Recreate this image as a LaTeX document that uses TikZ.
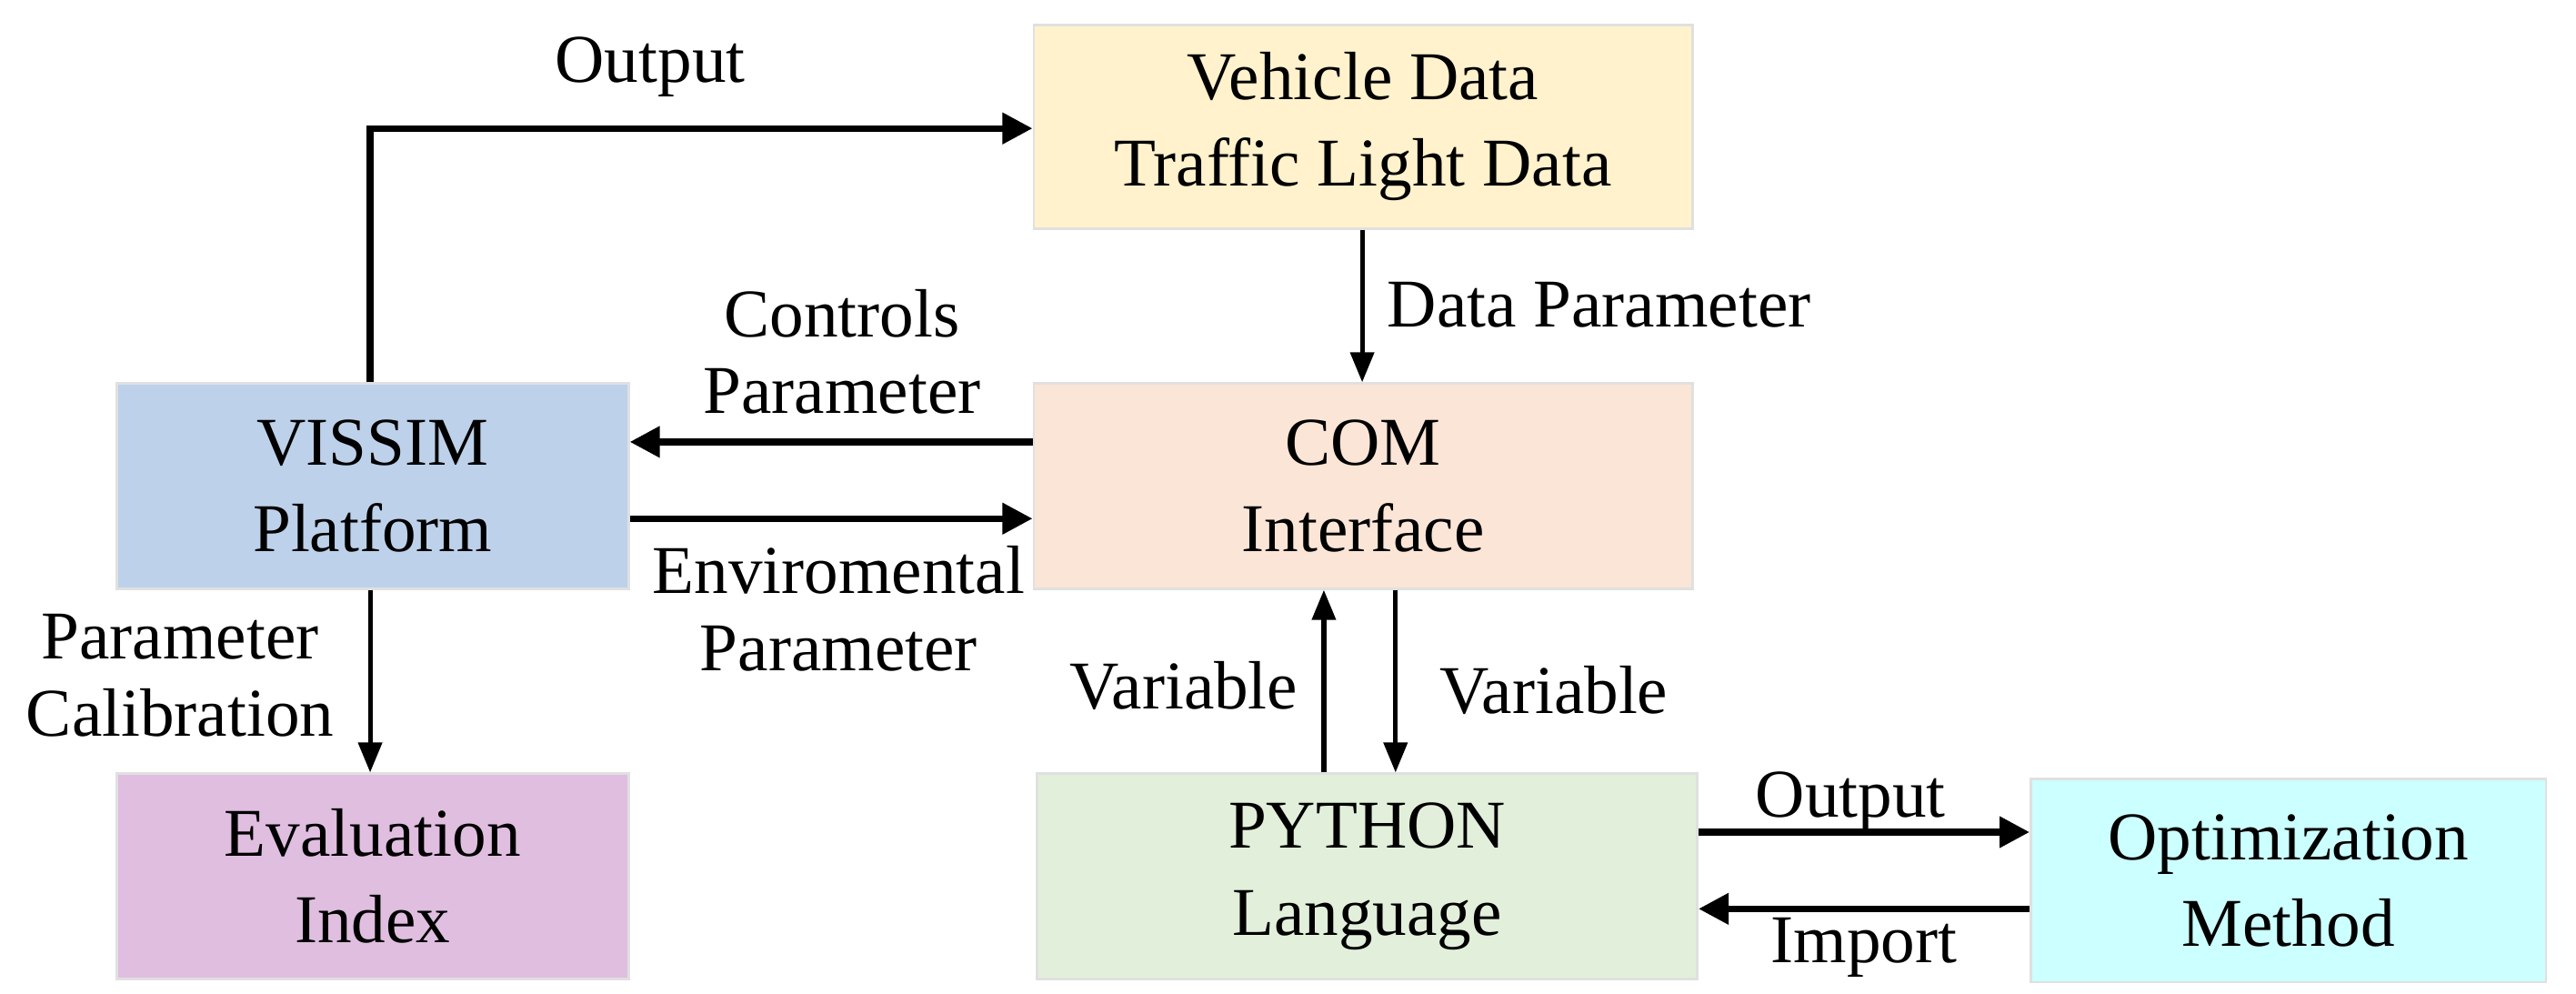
\documentclass[tikz,border=0pt]{standalone}
\usepackage{fontspec}
\setmainfont{Liberation Serif}
\usetikzlibrary{arrows.meta}
\definecolor{cy}{HTML}{FFF2CC}
\definecolor{cb}{HTML}{BDD1EA}
\definecolor{cp}{HTML}{FBE5D6}
\definecolor{cv}{HTML}{E0BEE0}
\definecolor{cg}{HTML}{E2EFDA}
\definecolor{cc}{HTML}{CCFFFF}
\begin{document}
\begin{tikzpicture}[x=1pt,y=-1pt,
  box/.style={draw=black!12,line width=1.5pt,inner sep=0pt,align=center,font=\fontsize{41}{52}\selectfont},
  lab/.style={align=center,font=\fontsize{41}{46}\selectfont,inner sep=0pt},
  th/.style={line width=4pt,-{Triangle[length=18pt,width=18pt]}},
  tn/.style={line width=2.8pt,-{Triangle[length=18pt,width=14pt]}}]
\useasboundingbox (0,0) rectangle (1545,596);
\node[box,fill=cy,minimum width=395pt,minimum height=122pt] (veh) at (817.5,76) {Vehicle Data\\Traffic Light Data};
\node[box,fill=cb,minimum width=307pt,minimum height=123pt] (vis) at (223.5,291.5) {VISSIM\\Platform};
\node[box,fill=cp,minimum width=395pt,minimum height=123pt] (com) at (817.5,291.5) {COM\\Interface};
\node[box,fill=cv,minimum width=307pt,minimum height=123pt] (eva) at (223.5,525.5) {Evaluation\\Index};
\node[box,fill=cg,minimum width=396pt,minimum height=123pt] (py) at (820,525.5) {PYTHON\\Language};
\node[box,fill=cc,minimum width=309pt,minimum height=122pt] (opt) at (1372.5,528) {Optimization\\Method};
\coordinate (c1) at (222,77);
\draw[th] (vis.north -| c1) -- (c1) -- (veh.west |- c1);
\node[lab] at (390,40) {Output};
\draw[tn] (veh.south -| 817,0) -- (com.north -| 817,0);
\node[lab,anchor=west] at (832,183) {Data Parameter};
\draw[th] (com.west |- 0,265) -- (vis.east |- 0,265);
\node[lab] at (505,211) {Controls\\Parameter};
\draw[th] (vis.east |- 0,311) -- (com.west |- 0,311);
\node[lab] at (503,365) {Enviromental\\Parameter};
\draw[tn] (vis.south -| 222,0) -- (eva.north -| 222,0);
\node[lab] at (108,405) {Parameter\\Calibration};
\draw[tn] (py.north -| 794,0) -- (com.south -| 794,0);
\node[lab] at (710,411) {Variable};
\draw[tn] (com.south -| 837,0) -- (py.north -| 837,0);
\node[lab] at (932,414) {Variable};
\draw[th] (py.east |- 0,499) -- (opt.west |- 0,499);
\node[lab] at (1110,481) {Output};
\draw[th] (opt.west |- 0,545) -- (py.east |- 0,545);
\node[lab] at (1118,568) {Import};
\end{tikzpicture}
\end{document}
